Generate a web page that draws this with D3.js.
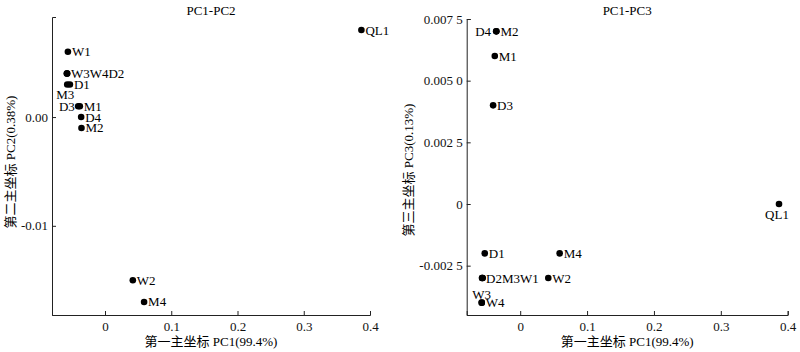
<!DOCTYPE html>
<html>
<head>
<meta charset="utf-8">
<script src="https://cdn.jsdelivr.net/npm/d3@7"></script>
<style>
  body { margin: 0; background: #fff; }
  svg { font-family: "Liberation Serif", "Times New Roman", "Noto Sans CJK SC", serif; }
</style>
</head>
<body>
<svg id="chart" width="800" height="352"></svg>
<script>
// samples and their principal coordinates
const samples = ["QL1", "W1", "W2", "W3", "W4", "D1", "D2", "D3", "D4", "M1", "M2", "M3", "M4"];
const pc1 = [0.387, -0.056, 0.042, -0.0575, -0.0575, -0.053, -0.057, -0.0405, -0.036, -0.038, -0.0355, -0.057, 0.059];
const pc2 = [0.0080, 0.0060, -0.0150, 0.0040, 0.0040, 0.0030, 0.0040, 0.0010, 0.0000, 0.0010, -0.0010, 0.0030, -0.0170];
const pc3 = [0.0000, -0.0030, -0.0030, -0.0040, -0.0040, -0.0020, -0.0030, 0.0040, 0.0070, 0.0060, 0.0070, -0.0030, -0.0020];

// axis ticks
const xTicks = [0, 0.1, 0.2, 0.3, 0.4];
const xTickLabels = ["0", "0.1", "0.2", "0.3", "0.4"];
const y2Ticks = [0, -0.01];
const y2TickLabels = ["0.00", "-0.01"];
const y3Ticks = [0.0075, 0.005, 0.0025, 0, -0.0025];
const y3TickLabels = ["0.007 5", "0.005 0", "0.002 5", "0", "-0.002 5"];

// labels: [text, sample the text sits next to, side]
const labels2 = [["QL1", "QL1", "right"], ["W1", "W1", "right"], ["W3W4D2", "W3", "right"],
  ["D1", "D1", "right"], ["M3", "M3", "belowleft"], ["D3", "M1", "left"], ["M1", "M1", "right"],
  ["D4", "D4", "right"], ["M2", "M2", "right"], ["W2", "W2", "right"], ["M4", "M4", "right"]];
const labels3 = [["D4", "D4", "left"], ["M2", "M2", "right"], ["M1", "M1", "right"], ["D3", "D3", "right"],
  ["QL1", "QL1", "below"], ["D1", "D1", "right"], ["M4", "M4", "right"], ["D2M3W1", "D2", "right"],
  ["W2", "W2", "right"], ["W3", "W3", "above"], ["W4", "W4", "right"]];

const svg = d3.select("#chart");

function panel(opt) {
  const x = d3.scaleLinear().domain([-0.08, 0.4]).range(opt.xr);
  const y = d3.scaleLinear().domain(opt.yd).range([315, opt.yTop]);
  const g = svg.append("g");

  const xa = g.append("g").attr("transform", `translate(0,${y.range()[0]})`)
    .call(d3.axisBottom(x).tickValues(xTicks).tickFormat((d, i) => xTickLabels[i])
      .tickSizeInner(-4).tickSizeOuter(-4).tickPadding(7));
  const ya = g.append("g").attr("transform", `translate(${x.range()[0]},0)`)
    .call(d3.axisLeft(y).tickValues(opt.yTicks).tickFormat((d, i) => opt.yLabels[i])
      .tickSizeInner(-4).tickSizeOuter(-4).tickPadding(4));
  [xa, ya].forEach(a => {
    a.selectAll("path, line").attr("stroke", "#222");
    a.selectAll("text").attr("font-size", 13).attr("fill", "#111")
      .attr("font-family", "Liberation Serif, serif");
  });

  g.append("text").attr("x", d3.mean(opt.xr)).attr("y", 15)
    .attr("text-anchor", "middle").attr("font-size", 13).text(opt.title);
  g.append("text").attr("x", d3.mean(opt.xr)).attr("y", 346)
    .attr("text-anchor", "middle").attr("font-size", 13).text("第一主坐标 PC1(99.4%)");
  g.append("text").attr("transform", `translate(${opt.yLabelX},${opt.yLabelY}) rotate(-90)`)
    .attr("text-anchor", "middle").attr("font-size", 13).text(opt.yTitle);

  g.append("g").selectAll("circle").data(samples).join("circle")
    .attr("cx", (d, i) => x(pc1[i])).attr("cy", (d, i) => y(opt.yv[i]))
    .attr("r", 3.3).attr("fill", "#000");

  g.append("g").selectAll("text").data(opt.labels).join("text")
    .attr("font-size", 13)
    .each(function (d) {
      const i = samples.indexOf(d[1]);
      const px = x(pc1[i]), py = y(opt.yv[i]);
      const t = d3.select(this).text(d[0]);
      if (d[2] === "right") t.attr("x", px + 4).attr("y", py + 4.5);
      else if (d[2] === "left") t.attr("x", px - 5).attr("y", py + 4.5).attr("text-anchor", "end");
      else if (d[2] === "below") t.attr("x", px - 2).attr("y", py + 15).attr("text-anchor", "middle");
      else if (d[2] === "above") t.attr("x", px).attr("y", py - 4).attr("text-anchor", "middle");
      else if (d[2] === "belowleft") t.attr("x", px + 7).attr("y", py + 14.5).attr("text-anchor", "end");
    });
}

panel({ xr: [52, 370], yd: [-0.0182, 0.0092], yTop: 17, yTicks: y2Ticks, yLabels: y2TickLabels,
  yv: pc2, labels: labels2, title: "PC1-PC2", yTitle: "第二主坐标 PC2(0.38%)", yLabelX: 15, yLabelY: 162 });
panel({ xr: [466.7, 787.7], yd: [-0.0045, 0.0075], yTop: 19, yTicks: y3Ticks, yLabels: y3TickLabels,
  yv: pc3, labels: labels3, title: "PC1-PC3", yTitle: "第三主坐标 PC3(0.13%)", yLabelX: 413, yLabelY: 170 });
</script>
</body>
</html>
